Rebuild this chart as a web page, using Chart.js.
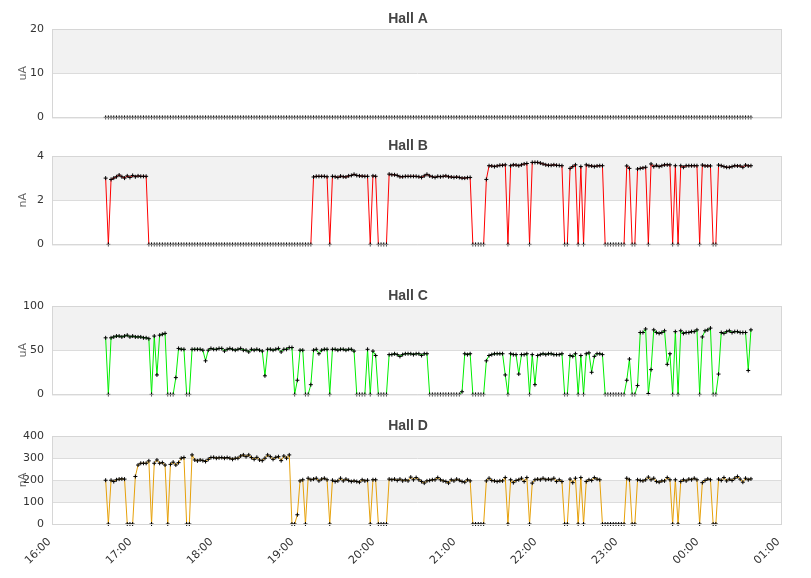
<!DOCTYPE html>
<html>
<head>
<meta charset="utf-8">
<script src="https://cdn.jsdelivr.net/npm/chart.js@4.4.0/dist/chart.umd.min.js"></script>
<style>
    body { margin: 0; background: #fff; }
    #wrap { position: relative; width: 811px; height: 578px; }
    #wrap canvas { position: absolute; left: 0; }
</style>
</head>
<body>
<div id="wrap">
    <canvas id="hallA" width="811" height="133" style="top:0"></canvas>
    <canvas id="hallB" width="811" height="133" style="top:127px"></canvas>
    <canvas id="hallC" width="811" height="133" style="top:277px"></canvas>
    <canvas id="hallD" width="811" height="171" style="top:407px"></canvas>
</div>
<script>
// readings every 2 minutes, first one at 16:39 (minutes counted from 16:00)
const startMinute = 39;
const stepMinutes = 2;
const hourTicks = ['16:00', '17:00', '18:00', '19:00', '20:00', '21:00', '22:00', '23:00', '00:00', '01:00'];

const hallA = [
    0, 0, 0, 0, 0, 0, 0, 0, 0, 0,  0, 0, 0, 0, 0, 0, 0, 0, 0, 0,
    0, 0, 0, 0, 0, 0, 0, 0, 0, 0,  0, 0, 0, 0, 0, 0, 0, 0, 0, 0,
    0, 0, 0, 0, 0, 0, 0, 0, 0, 0,  0, 0, 0, 0, 0, 0, 0, 0, 0, 0,
    0, 0, 0, 0, 0, 0, 0, 0, 0, 0,  0, 0, 0, 0, 0, 0, 0, 0, 0, 0,
    0, 0, 0, 0, 0, 0, 0, 0, 0, 0,  0, 0, 0, 0, 0, 0, 0, 0, 0, 0,
    0, 0, 0, 0, 0, 0, 0, 0, 0, 0,  0, 0, 0, 0, 0, 0, 0, 0, 0, 0,
    0, 0, 0, 0, 0, 0, 0, 0, 0, 0,  0, 0, 0, 0, 0, 0, 0, 0, 0, 0,
    0, 0, 0, 0, 0, 0, 0, 0, 0, 0,  0, 0, 0, 0, 0, 0, 0, 0, 0, 0,
    0, 0, 0, 0, 0, 0, 0, 0, 0, 0,  0, 0, 0, 0, 0, 0, 0, 0, 0, 0,
    0, 0, 0, 0, 0, 0, 0, 0, 0, 0,  0, 0, 0, 0, 0, 0, 0, 0, 0, 0,
    0, 0, 0, 0, 0, 0, 0, 0, 0, 0,  0, 0, 0, 0, 0, 0, 0, 0, 0, 0,
    0, 0, 0, 0, 0, 0, 0, 0, 0, 0,  0, 0, 0, 0, 0, 0, 0, 0, 0, 0
];

const hallB = [
    3.0, 0, 2.94, 3.0, 3.06, 3.14, 3.06, 3.0, 3.1, 3.03,
    3.12, 3.06, 3.1, 3.08, 3.08, 3.08, 0, 0, 0, 0,
    0, 0, 0, 0, 0, 0, 0, 0, 0, 0,
    0, 0, 0, 0, 0, 0, 0, 0, 0, 0,
    0, 0, 0, 0, 0, 0, 0, 0, 0, 0,
    0, 0, 0, 0, 0, 0, 0, 0, 0, 0,
    0, 0, 0, 0, 0, 0, 0, 0, 0, 0,
    0, 0, 0, 0, 0, 0, 0, 3.05, 3.08, 3.08,
    3.08, 3.08, 3.06, 0, 3.08, 3.06, 3.03, 3.09, 3.06, 3.05,
    3.1, 3.12, 3.17, 3.12, 3.1, 3.09, 3.08, 3.08, 0, 3.1,
    3.08, 0, 0, 0, 0, 3.18, 3.15, 3.15, 3.12, 3.06,
    3.06, 3.08, 3.08, 3.08, 3.08, 3.08, 3.06, 3.03, 3.1, 3.17,
    3.1, 3.06, 3.03, 3.08, 3.06, 3.08, 3.1, 3.06, 3.05, 3.03,
    3.05, 3.03, 3.0, 3.0, 3.02, 3.03, 0, 0, 0, 0,
    0, 2.94, 3.56, 3.55, 3.52, 3.55, 3.58, 3.58, 3.6, 0,
    3.56, 3.6, 3.59, 3.56, 3.6, 3.64, 3.66, 0, 3.71, 3.71,
    3.71, 3.68, 3.64, 3.6, 3.58, 3.58, 3.6, 3.58, 3.57, 3.56,
    0, 0, 3.44, 3.52, 3.6, 0, 3.52, 0, 3.6, 3.56,
    3.55, 3.52, 3.55, 3.56, 3.56, 0, 0, 0, 0, 0,
    0, 0, 0, 3.55, 3.44, 0, 0, 3.41, 3.44, 3.46,
    3.49, 0, 3.64, 3.52, 3.58, 3.52, 3.56, 3.6, 3.6, 3.6,
    0, 3.56, 0, 3.56, 3.49, 3.56, 3.56, 3.56, 3.56, 3.56,
    0, 3.59, 3.55, 3.55, 3.55, 0, 0, 3.59, 3.56, 3.52,
    3.49, 3.49, 3.52, 3.56, 3.55, 3.55, 3.49, 3.59, 3.55, 3.56
];

const hallC = [
    64, 0, 64, 65, 66, 66, 65, 66, 67, 65,
    66, 65, 65, 65, 64, 64, 63, 0, 66, 22,
    67, 68, 69, 0, 0, 0, 19, 52, 51, 51,
    0, 0, 51, 51, 51, 51, 50, 38, 50, 52,
    51, 51, 52, 52, 49, 51, 52, 51, 50, 51,
    52, 50, 50, 48, 51, 50, 51, 50, 49, 21,
    51, 51, 50, 51, 52, 48, 51, 51, 53, 53,
    0, 16, 50, 50, 0, 0, 11, 50, 51, 46,
    50, 51, 51, 0, 51, 51, 50, 51, 51, 50,
    51, 51, 49, 0, 0, 0, 0, 51, 0, 49,
    44, 0, 0, 0, 0, 45, 45, 46, 45, 43,
    45, 46, 46, 46, 45, 46, 46, 44, 46, 46,
    0, 0, 0, 0, 0, 0, 0, 0, 0, 0,
    0, 0, 3, 46, 45, 46, 0, 0, 0, 0,
    0, 38, 44, 45, 46, 46, 46, 46, 22, 0,
    46, 45, 45, 23, 45, 45, 46, 0, 45, 11,
    44, 45, 46, 45, 46, 46, 45, 45, 45, 46,
    0, 0, 44, 43, 46, 0, 44, 0, 46, 47,
    25, 43, 46, 46, 45, 0, 0, 0, 0, 0,
    0, 0, 0, 16, 40, 0, 0, 10, 70, 70,
    74, 1, 28, 73, 70, 69, 70, 72, 34, 46,
    0, 71, 0, 72, 69, 70, 70, 71, 71, 73,
    0, 65, 72, 73, 75, 0, 0, 23, 70, 69,
    71, 72, 70, 71, 71, 70, 70, 70, 27, 73
];

const hallD = [
    199, 0, 199, 193, 201, 204, 205, 204, 0, 0,
    0, 216, 268, 276, 276, 276, 287, 0, 276, 291,
    276, 279, 268, 0, 271, 281, 268, 279, 299, 302,
    0, 0, 314, 291, 287, 291, 288, 284, 294, 302,
    303, 299, 301, 302, 299, 302, 299, 294, 299, 299,
    309, 314, 306, 314, 302, 294, 303, 291, 288, 299,
    314, 306, 294, 303, 306, 288, 309, 299, 314, 0,
    0, 42, 196, 201, 0, 208, 201, 204, 208, 196,
    204, 208, 201, 0, 199, 193, 196, 208, 196, 204,
    198, 193, 196, 193, 190, 201, 196, 199, 0, 201,
    201, 0, 0, 0, 0, 204, 201, 204, 198, 204,
    196, 201, 196, 213, 201, 211, 201, 193, 186, 196,
    198, 201, 201, 211, 201, 196, 193, 186, 201, 196,
    204, 199, 193, 190, 201, 196, 0, 0, 0, 0,
    0, 196, 208, 198, 196, 193, 196, 196, 211, 0,
    201, 188, 198, 201, 208, 193, 211, 0, 186, 201,
    204, 201, 208, 201, 204, 201, 208, 193, 201, 193,
    0, 0, 204, 188, 208, 0, 211, 0, 193, 201,
    198, 211, 204, 201, 0, 0, 0, 0, 0, 0,
    0, 0, 0, 208, 201, 0, 0, 201, 198, 196,
    201, 213, 201, 208, 193, 190, 196, 196, 211, 201,
    0, 201, 0, 193, 201, 196, 204, 201, 208, 201,
    0, 188, 198, 205, 201, 0, 0, 204, 198, 211,
    196, 204, 198, 208, 216, 204, 190, 208, 201, 205
];

const tickFont = { family: 'DejaVu Sans', size: 11 };

// grey bands between every other grid line, the frame over the lines,
// and the slanted hour labels under the bottom panel
const bandsPlugin = {
    id: 'bands',
    beforeDraw(chart) {
        const { ctx, chartArea: a, scales: { y } } = chart;
        const px = y.ticks.map(t => y.getPixelForValue(t.value)).sort((p, q) => p - q);
        ctx.save();
        ctx.fillStyle = '#f2f2f2';
        for (let k = 0; k < px.length - 1; k += 2) {
            ctx.fillRect(a.left, px[k], a.right - a.left, px[k + 1] - px[k]);
        }
        ctx.restore();
    },
    afterDatasetsDraw(chart) {
        const { ctx, chartArea: a } = chart;
        ctx.save();
        ctx.strokeStyle = '#d6d6d6';
        ctx.lineWidth = 1;
        ctx.strokeRect(a.left - 0.5, a.top + 0.5, a.right - a.left, a.bottom - a.top);
        ctx.restore();
    },
    afterDraw(chart) {
        const x = chart.scales.x;
        if (!x.options.display) return;
        const { ctx, chartArea: a } = chart;
        ctx.save();
        ctx.fillStyle = '#333';
        ctx.font = '11px "DejaVu Sans"';
        ctx.textAlign = 'right';
        ctx.textBaseline = 'middle';
        x.ticks.forEach(t => {
            ctx.save();
            ctx.translate(x.getPixelForValue(t.value) - 3.5, a.bottom + 16);
            ctx.rotate(-Math.PI / 4);
            ctx.fillText(hourTicks[t.value / 60], 0, 0);
            ctx.restore();
        });
        ctx.restore();
    }
};

function drawHall(id, title, unit, values, color, yMax, yStep, showX) {
    const points = values.map((v, i) => ({ x: startMinute + i * stepMinutes, y: v }));

    new Chart(document.getElementById(id), {
        type: 'line',
        data: {
            datasets: [{
                data: points,
                borderColor: color,
                borderWidth: 1,
                tension: 0,
                pointStyle: 'cross',
                pointRadius: 2,
                pointHoverRadius: 2,
                pointBorderColor: '#000',
                pointBorderWidth: 1,
                clip: 4,
                segment: {
                    borderColor: c => (c.p0.parsed.y === 0 && c.p1.parsed.y === 0) ? 'rgba(0,0,0,0)' : undefined
                }
            }]
        },
        options: {
            responsive: false,
            animation: false,
            events: [],
            layout: { padding: { left: 5, right: 0, top: 0, bottom: 0 } },
            plugins: {
                legend: { display: false },
                tooltip: { enabled: false },
                title: {
                    display: true,
                    text: title,
                    color: '#444',
                    font: { family: 'Liberation Sans', size: 14, weight: 'bold' },
                    padding: { top: 11, bottom: 1.2 }
                }
            },
            scales: {
                x: {
                    type: 'linear',
                    min: 0,
                    max: 540,
                    display: showX,
                    grid: { display: false },
                    border: { display: false },
                    ticks: { stepSize: 60, display: false },
                    afterFit: s => {
                        s.paddingLeft = 0;
                        s.paddingRight = 29;
                        if (showX) s.height = 54;
                    }
                },
                y: {
                    min: 0,
                    max: yMax,
                    grid: { color: '#dcdcdc', drawTicks: false },
                    border: { display: false },
                    ticks: { stepSize: yStep, padding: 9, color: '#333', font: tickFont },
                    title: {
                        display: true,
                        text: unit,
                        color: '#666',
                        font: { family: 'DejaVu Sans', size: 11 },
                        padding: { top: 12, bottom: 0 }
                    },
                    afterFit: s => { s.width = 48; }
                }
            }
        },
        plugins: [bandsPlugin]
    });
}

drawHall('hallA', 'Hall A', 'uA', hallA, '#3a5fcd', 20, 10, false);
drawHall('hallB', 'Hall B', 'nA', hallB, '#ff0000', 4, 2, false);
drawHall('hallC', 'Hall C', 'uA', hallC, '#00ee00', 100, 50, false);
drawHall('hallD', 'Hall D', 'nA', hallD, '#e6a10a', 400, 100, true);
</script>
</body>
</html>
